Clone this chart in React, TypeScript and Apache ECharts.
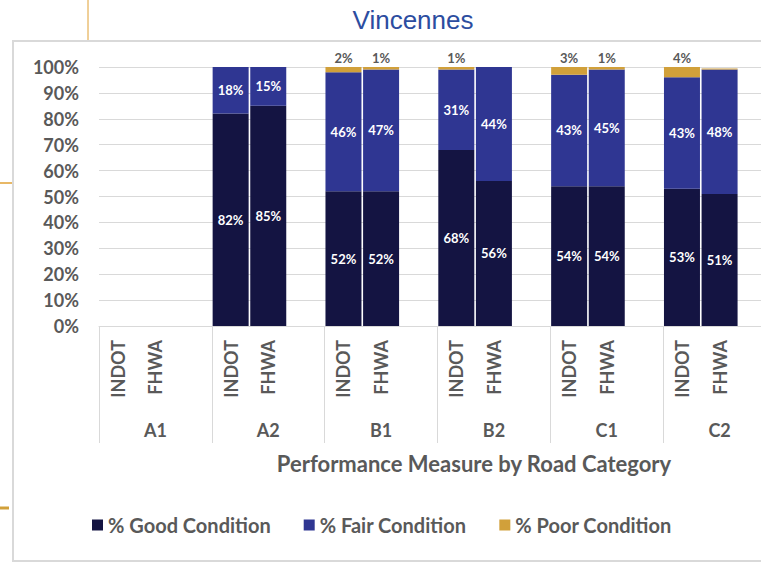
import React, { useEffect, useRef } from "react";
import * as echarts from "echarts";

const groups = ["A1", "A2", "B1", "B2", "C1", "C2"];
const sources = ["INDOT", "FHWA"];
const seriesNames = ["% Good Condition", "% Fair Condition", "% Poor Condition"];
const yTicks = [0, 10, 20, 30, 40, 50, 60, 70, 80, 90, 100];

// values per group (A1 has no data)
const goodINDOT = [null, 82, 52, 68, 54, 53];
const goodFHWA = [null, 85, 52, 56, 54, 51];
const fairINDOT = [null, 18, 46, 31, 43, 43];
const fairFHWA = [null, 15, 47, 44, 45, 48];
const poorINDOT = [null, 0, 2, 1, 3, 4];
const poorFHWA = [null, 0, 1, 0, 1, 0.4];

const colors = ["#141442", "#2f3692", "#d1a03a"];

// Build leaf categories: INDOT, FHWA, blank per group
const leafCats: string[] = [];
groups.forEach(() => {
  leafCats.push(sources[0], sources[1], "");
});
function interleave(a: (number | null)[], b: (number | null)[]) {
  const out: (number | null)[] = [];
  for (let i = 0; i < a.length; i++) out.push(a[i], b[i], null);
  return out;
}
const goodData = interleave(goodINDOT, goodFHWA);
const fairData = interleave(fairINDOT, fairFHWA);
const poorData = interleave(poorINDOT, poorFHWA);

const FONT = "Lato";
const GRAY = "#595959";

const pct = (p: any) =>
  p.value == null || p.value < 0.5 ? "" : Math.round(p.value) + "%";

export default function App() {
  const ref = useRef<HTMLDivElement>(null);
  useEffect(() => {
    if (!ref.current) return;
    const chart = echarts.init(ref.current, null, { renderer: "svg" });
    const insideLabel = {
      show: true,
      position: "inside",
      color: "#ffffff",
      fontFamily: FONT,
      fontWeight: "bold",
      fontSize: 13,
      formatter: pct,
    };
    chart.setOption({
      animation: false,
      textStyle: { fontFamily: FONT },
      title: {
        text: "Vincennes",
        left: 408,
        top: 2,
        textAlign: "center",
        textStyle: { fontFamily: "Liberation Sans", fontSize: 26, fontWeight: "normal", color: "#2c4da0" },
      },
      graphic: [
        {
          type: "rect",
          z: -10,
          shape: { x: 13, y: 41, width: 900, height: 520 },
          style: { fill: "transparent", stroke: "#d9d9d9", lineWidth: 2 },
        },
        { type: "line", shape: { x1: 88, y1: 0, x2: 88, y2: 40 }, style: { stroke: "#e0a033", lineWidth: 1 } },
        { type: "line", shape: { x1: 0, y1: 183, x2: 12, y2: 183 }, style: { stroke: "#e0a033", lineWidth: 1.5 } },
        { type: "line", shape: { x1: 0, y1: 508, x2: 9, y2: 508 }, style: { stroke: "#d1a03a", lineWidth: 3 } },
        {
          type: "text",
          x: 474,
          y: 463,
          style: {
            text: "Performance Measure by Road Category",
            fill: GRAY,
            font: `bold 22px ${FONT}`,
            textAlign: "center",
            textVerticalAlign: "middle",
          },
        },
      ],
      legend: {
        data: seriesNames,
        left: 87,
        top: 510,
        itemWidth: 11,
        itemHeight: 11,
        itemGap: 33,
        icon: "rect",
        textStyle: { color: GRAY, fontFamily: FONT, fontWeight: "bold", fontSize: 20 },
      },
      grid: { left: 99, top: 67, width: 677, height: 259, containLabel: false },
      xAxis: [
        {
          type: "category",
          data: leafCats,
          position: "bottom",
          axisLine: { show: true, lineStyle: { color: "#d9d9d9", width: 1 } },
          axisTick: { show: false },
          axisLabel: {
            interval: 0,
            rotate: 90,
            margin: 14,
            color: GRAY,
            fontFamily: FONT,
            fontWeight: "bold",
            fontSize: 18,
          },
        },
        {
          type: "category",
          data: groups,
          position: "bottom",
          axisLine: { show: false },
          axisTick: { show: true, length: 117, lineStyle: { color: "#d9d9d9", width: 1 } },
          axisLabel: {
            interval: 0,
            margin: 95,
            color: GRAY,
            fontFamily: FONT,
            fontWeight: "bold",
            fontSize: 18,
          },
        },
      ],
      yAxis: {
        type: "value",
        min: yTicks[0],
        max: yTicks[yTicks.length - 1],
        interval: 10,
        axisLine: { show: false },
        axisTick: { show: false },
        splitLine: { lineStyle: { color: "#d9d9d9", width: 1 } },
        axisLabel: {
          formatter: "{value}%",
          margin: 20,
          color: GRAY,
          fontFamily: FONT,
          fontWeight: "bold",
          fontSize: 18,
        },
      },
      series: [
        {
          name: seriesNames[0],
          type: "bar",
          stack: "total",
          xAxisIndex: 0,
          barWidth: 36,
          itemStyle: { color: colors[0] },
          label: insideLabel,
          data: goodData,
        },
        {
          name: seriesNames[1],
          type: "bar",
          stack: "total",
          xAxisIndex: 0,
          barWidth: 36,
          itemStyle: { color: colors[1] },
          label: insideLabel,
          data: fairData,
        },
        {
          name: seriesNames[2],
          type: "bar",
          stack: "total",
          xAxisIndex: 0,
          barWidth: 36,
          itemStyle: { color: colors[2] },
          label: {
            show: true,
            position: "top",
            distance: 3,
            color: GRAY,
            fontFamily: FONT,
            fontWeight: "bold",
            fontSize: 13,
            formatter: pct,
          },
          data: poorData,
        },
      ],
    });
    return () => chart.dispose();
  }, []);
  return (
    <div
      style={{
        position: "fixed",
        left: 0,
        top: 0,
        width: 761,
        height: 564,
        overflow: "hidden",
        background: "#ffffff",
      }}
    >
      <div ref={ref} style={{ width: 800, height: 564 }} />
    </div>
  );
}
